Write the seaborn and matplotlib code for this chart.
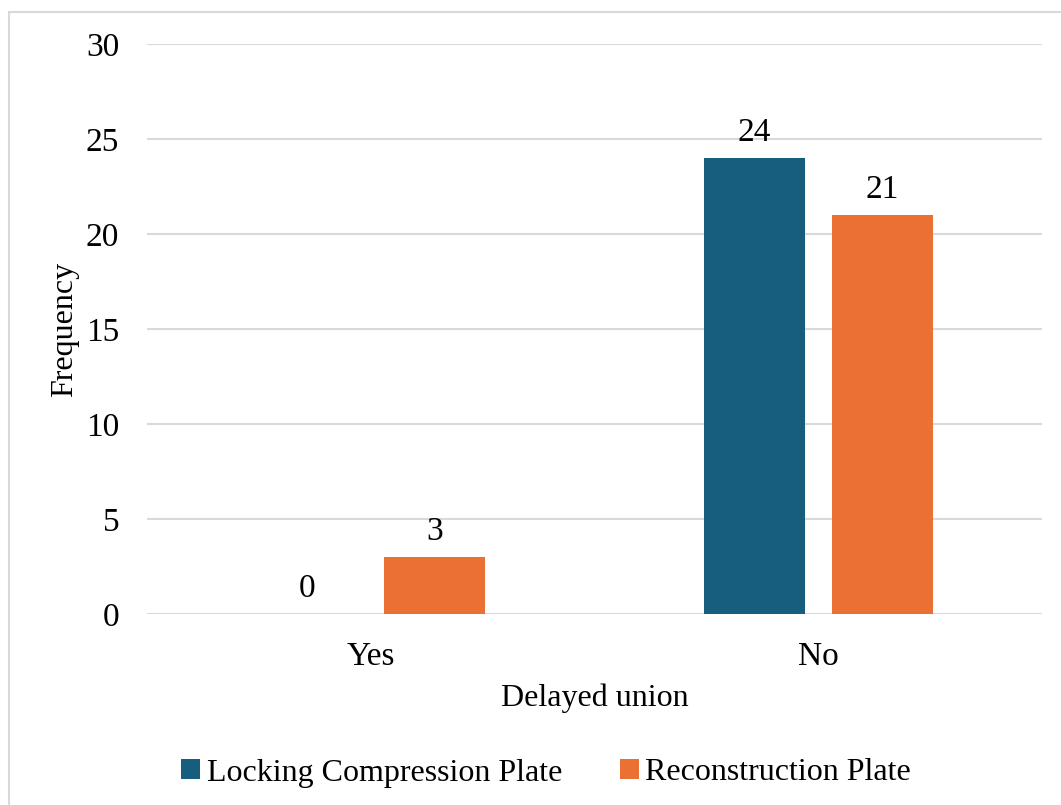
import matplotlib
matplotlib.use("Agg")
import matplotlib.pyplot as plt
import seaborn as sns
import pandas as pd
from matplotlib.patches import Rectangle

categories = ["Yes", "No"]
series_names = ["Locking Compression Plate", "Reconstruction Plate"]
lcp_values = [0, 24]
rp_values = [3, 21]
yticks = [0, 5, 10, 15, 20, 25, 30]

df = pd.DataFrame({
    "Delayed union": categories * 2,
    "Plate": [series_names[0]] * 2 + [series_names[1]] * 2,
    "Frequency": lcp_values + rp_values,
})

sns.set_theme(style="white")
plt.rcParams["font.family"] = ["Liberation Serif", "DejaVu Serif"]
plt.rcParams["text.color"] = "black"
plt.rcParams["axes.labelcolor"] = "black"

fig = plt.figure(figsize=(10.61, 8.05), dpi=100)
ax = fig.add_axes([147/1061, 1-614/805, (1042-147)/1061, (614-44)/805])

colors = ["#175e7e", "#ea7133"]
sns.barplot(data=df, x="Delayed union", y="Frequency", hue="Plate",
            order=categories, hue_order=series_names, palette=colors,
            width=0.572, gap=0.21, ax=ax, saturation=1, legend=True,
            linewidth=0, edgecolor="none")

ax.set_ylim(0, 30)
ax.set_yticks(yticks)
ax.yaxis.grid(True, color="#d9d9d9", linewidth=1.5)
ax.set_axisbelow(True)
for s in ax.spines.values():
    s.set_visible(False)
ax.tick_params(axis="both", length=0, labelsize=24, colors="black")
ax.tick_params(axis="y", pad=20)
ax.tick_params(axis="x", pad=20)
ax.set_xlabel("Delayed union", fontsize=23, labelpad=8, color="black")
ax.set_ylabel("Frequency", fontsize=23, labelpad=5, color="black")

for cont in ax.containers:
    ax.bar_label(cont, fmt="%d", fontsize=24, padding=7, color="black")

handles, labels = ax.get_legend_handles_labels()
ax.legend(handles, labels, loc="center", bbox_to_anchor=(0.446, (614-773)/570),
          bbox_transform=ax.transAxes, ncol=2, frameon=False, fontsize=23,
          handlelength=0.6, handleheight=0.6, handletextpad=0.2, columnspacing=1.8,
          labelcolor="black")

fig.patches.append(Rectangle((9/1061, -0.1), 1.2, 1 - 12/805 + 0.1,
                             transform=fig.transFigure, fill=False,
                             edgecolor="#d9d9d9", linewidth=1.5))

fig.savefig("out.png", dpi=100, facecolor="white")
